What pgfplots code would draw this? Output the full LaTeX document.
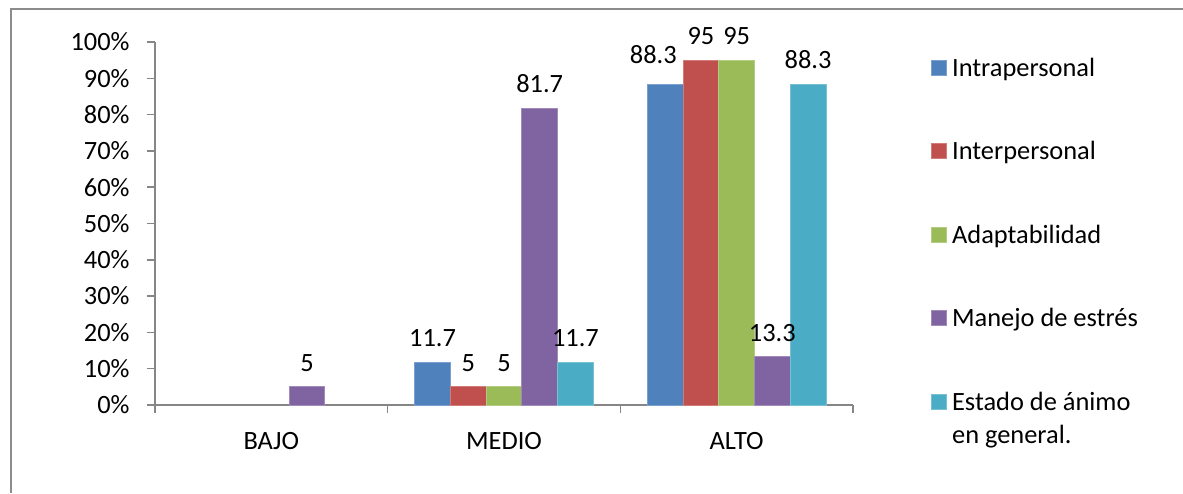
\documentclass[border=0pt]{standalone}
\usepackage{pgfplots}
\pgfplotsset{compat=1.18}
\usepackage{fontspec}
\setmainfont{Carlito}
\definecolor{c1}{HTML}{4F81BD}
\definecolor{c2}{HTML}{C0504D}
\definecolor{c3}{HTML}{9BBB59}
\definecolor{c4}{HTML}{8064A2}
\definecolor{c5}{HTML}{4BACC6}
\definecolor{axisgray}{HTML}{868686}
\definecolor{framegray}{HTML}{8C8C8C}
\newcommand{\lstrut}{\rule[-3.5pt]{0pt}{14.5pt}}
\begin{document}
\fontsize{13.2}{16.5}\selectfont
\begin{tikzpicture}
\useasboundingbox (-77.5pt,-44pt) rectangle (514pt,202.5pt);
\draw[framegray, line width=1pt] (-72pt,-44pt) -- (-72pt,198pt) -- (514pt,198pt);
\begin{axis}[
  at={(0,0)}, anchor=south west,
  scale only axis, width=349pt, height=181.5pt,
  xmin=-0.5, xmax=2.5, ymin=0, ymax=100,
  axis lines*=left,
  axis line style={axisgray, line width=0.75pt},
  tick style={axisgray, line width=0.75pt},
  tick align=outside, major tick length=4pt,
  xtick={-0.5,0.5,1.5,2.5}, x tick label as interval,
  xticklabels={BAJO,MEDIO,ALTO},
  ytick={0,10,...,100},
  yticklabels={0\%,10\%,20\%,30\%,40\%,50\%,60\%,70\%,80\%,90\%,100\%},
  xticklabel style={anchor=north, inner sep=0pt, yshift=-9.5pt},
  yticklabel style={anchor=east, inner sep=0pt, xshift=-8.5pt},
  /pgf/number format/assume math mode=true,
  ybar=0pt, bar width=17.85pt,
  nodes near coords,
  nodes near coords style={anchor=south, inner sep=0pt, yshift=7.5pt, text=black},
  legend image code/.code={\fill[#1] (0pt,0.5pt) rectangle (7.5pt,8pt);},
  legend style={draw=none, fill=none, inner sep=0pt, row sep=28.75pt, column sep=2.5pt,
    at={(rel axis cs:1.1116,0.9669)}, anchor=north west,
    nodes={inner sep=0pt, anchor=base west}},
  legend cell align=left,
]
\addplot+[fill=c1, draw=c1!75!white, line width=0.4pt,
  visualization depends on={\thisrow{dx}\as\dx},
  visualization depends on={\thisrow{dy}\as\dy},
  nodes near coords style={xshift=\dx pt, yshift=\dy pt}] table {
x y dx dy
1 11.7 0 0
2 88.3 -6 2.5
};
\addlegendentry{\lstrut Intrapersonal}
\addplot+[fill=c2, draw=c2!75!white, line width=0.4pt] table {
x y
1 5
2 95
};
\addlegendentry{\lstrut Interpersonal}
\addplot+[fill=c3, draw=c3!75!white, line width=0.4pt] table {
x y
1 5
2 95
};
\addlegendentry{\lstrut Adaptabilidad}
\addplot+[fill=c4, draw=c4!75!white, line width=0.4pt] table {
x y
0 5
1 81.7
2 13.3
};
\addlegendentry{\lstrut Manejo de estrés}
\addplot+[fill=c5, draw=c5!75!white, line width=0.4pt] table {
x y
1 11.7
2 88.3
};
\addlegendentry{\parbox[t]{3.5cm}{\raggedright\lstrut Estado de ánimo\newline en general.}}
\end{axis}
\end{tikzpicture}
\end{document}
